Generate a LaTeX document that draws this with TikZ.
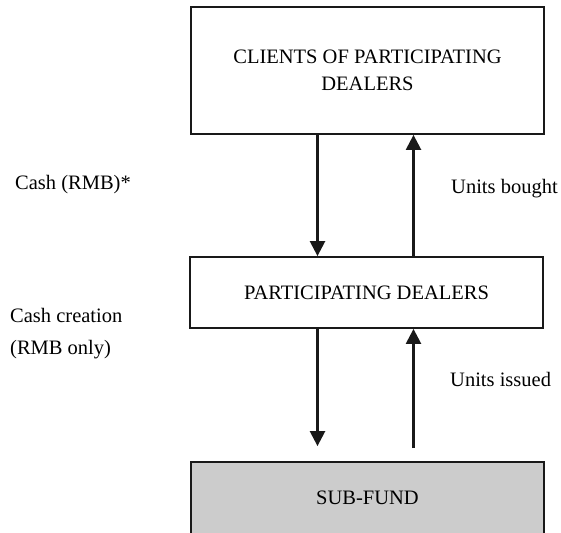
\documentclass[tikz,border=0pt]{standalone}
\usepackage{fontspec}
\setmainfont{Liberation Serif}
\usetikzlibrary{arrows.meta,calc}
\begin{document}
\begin{tikzpicture}[x=1pt,y=-1pt,
  box/.style={draw=black!90, line width=1.8pt, minimum width=353pt, inner sep=0pt, align=center, font=\fontsize{20.5}{27}\selectfont},
  lbl/.style={anchor=west, inner sep=0pt, align=left, font=\fontsize{20.5}{32}\selectfont},
  arr/.style={draw=black!90, line width=2.4pt, -{Triangle[length=15pt,width=15pt]}}]
\useasboundingbox (0,0) rectangle (561,532);
\clip (0,0) rectangle (561,532);
\node[box, minimum height=127pt] (top) at (367.5,70.5) {CLIENTS OF PARTICIPATING\\DEALERS};
\node[box, minimum height=71pt] (mid) at (366.5,292.5) {PARTICIPATING DEALERS};
\node[box, fill=black!20, minimum height=72pt] (bot) at (367.5,498) {SUB-FUND};
\coordinate (dx) at (317.5,0);
\coordinate (ux) at (413.5,0);
\draw[arr] (top.south -| dx) -- (mid.north -| dx);
\draw[arr] (mid.north -| ux) -- (top.south -| ux);
\draw[arr] (mid.south -| dx) -- ($(bot.north -| dx)+(0,-15)$);
\draw[arr] ($(bot.north -| ux)+(0,-13)$) -- (mid.south -| ux);
\node[lbl] (c1) at (15,185) {Cash (RMB)*};
\node[lbl] (u1) at (451,189) {Units bought};
\node[lbl] (c2) at (10,334) {Cash creation\\(RMB only)};
\node[lbl] (u2) at (450,379) {Units issued};
\end{tikzpicture}
\end{document}
